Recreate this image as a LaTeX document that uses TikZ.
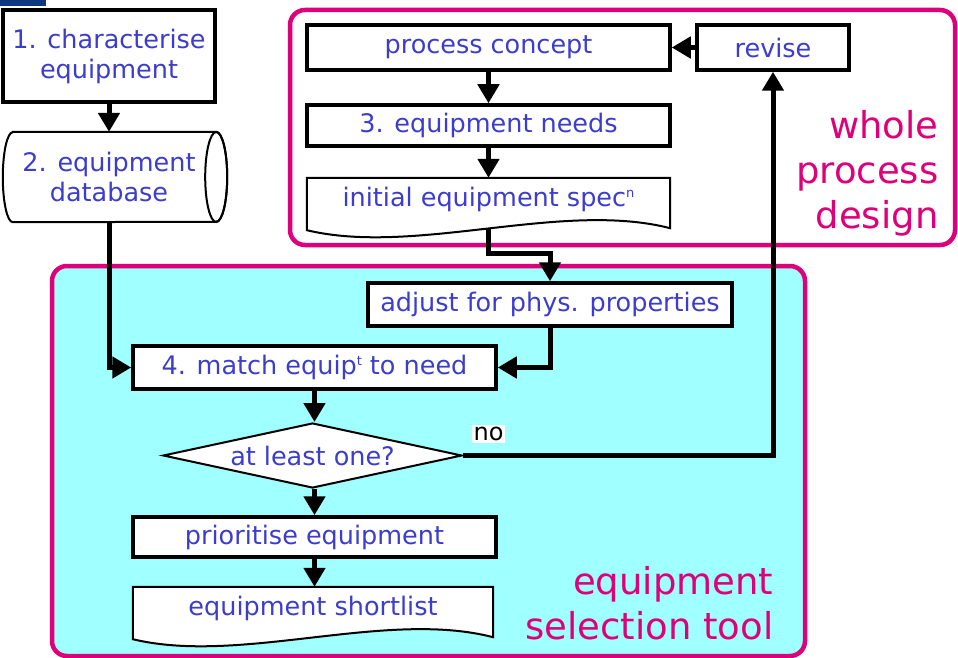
\documentclass[tikz,border=0pt]{standalone}
\usepackage{fontspec}
\setmainfont{DejaVu Sans}
\usetikzlibrary{arrows.meta,calc,shapes.geometric}
\pgfdeclarelayer{bg}
\pgfdeclarelayer{wires}
\pgfdeclarelayer{outlines}
\pgfsetlayers{bg,wires,outlines,main}
\definecolor{txtblue}{RGB}{60,60,205}
\definecolor{groupmag}{RGB}{222,0,122}
\definecolor{toolfill}{RGB}{160,255,255}
\definecolor{cornerblue}{RGB}{16,56,128}

% document symbol: flat top, wavy bottom
\newcommand\docshape[1]{%
  \path[thinshape] (#1.north west) -- (#1.north east) -- ($(#1.south east)+(0,8)$)
    .. controls ($(#1.south east)!0.3!(#1.south west)+(0,-20)$)
       and ($(#1.south east)!0.7!(#1.south west)+(0,36)$) .. ($(#1.south west)+(0,10)$) -- cycle;}
\newcommand\supsmall[1]{\raisebox{9pt}{\fontsize{13}{13}\selectfont #1}}

\begin{document}
\begin{tikzpicture}[x=1pt,y=-1pt,
  every node/.style={font=\fontsize{25.5}{30}\selectfont, text=txtblue},
  box/.style={draw, line width=3.5pt, fill=white, minimum width=363pt,
    minimum height=43pt, inner sep=0pt, align=center},
  docnode/.style={minimum width=363pt, minimum height=42pt, inner sep=0pt},
  thinshape/.style={draw, line width=2pt, fill=white},
  wire/.style={line width=5pt, -{Triangle[width=21pt,length=19pt]}},
  groupframe/.style={draw=groupmag, line width=4.5pt, rounded corners=15pt},
  grouplabel/.style={font=\fontsize{37}{45}\selectfont, text=groupmag,
    align=right, anchor=east}]
\useasboundingbox (0,0) rectangle (958,658);

% group frames
\begin{pgfonlayer}{bg}
  \fill[cornerblue] (0,0) rectangle (46,6);
  \path[groupframe, fill=white] (290,10) rectangle (955,245);
  \path[groupframe, fill=toolfill] (52,266) rectangle (805,656);
\end{pgfonlayer}

% steps
\node[box, minimum width=212pt, minimum height=92pt] (c1) at (109,56) {1. characterise\\equipment};
\node[minimum width=192pt, minimum height=90pt, inner sep=0pt, align=center] (db) at (109,177) {2. equipment\\database};
\node[box, minimum height=45pt] (pc) at (488.5,47.5) {process concept};
\node[box, minimum width=152pt, minimum height=45pt] (rev) at (773,47.5) {revise};
\node[box, minimum height=41pt] (needs) at (488.5,125.5) {3. equipment needs};
\node[docnode] (spec) at (488.5,199) {initial equipment spec\supsmall{n}};
\node[box, minimum width=364pt] (adj) at (550,304.5) {adjust for phys. properties};
\node[box] (match) at (314.5,367.5) {4. match equip\supsmall{t} to need};
\node[diamond, thinshape, minimum width=299pt, minimum height=65pt, aspect=4.6,
  inner sep=0pt] (dia) at (312.5,455.5) {at least one?};
\node[box, minimum height=40pt] (prio) at (314.5,537) {prioritise equipment};
\node[docnode, minimum width=360pt] (short) at (313,608) {equipment shortlist};

\node[fill=white, text=black, font=\fontsize{24}{28}\selectfont, inner sep=2pt] (no) at (488.5,434) {no};

\node[grouplabel] (wpd) at (942,173) {whole\\process\\design};
\node[grouplabel] (est) at (777,603) {equipment\\selection tool};

% symbol outlines
\begin{pgfonlayer}{outlines}
  \path[thinshape] (db.north west) -- ($(db.north east)+(11,0)$)
    arc[start angle=90, end angle=-90, x radius=11pt, y radius=45pt]
    -- (db.south west)
    arc[start angle=270, end angle=90, x radius=10pt, y radius=45pt] -- cycle;
  \draw[line width=2pt] ($(db.east)+(11,0)$) ellipse[x radius=11pt, y radius=45pt];
  \docshape{spec}
  \docshape{short}
\end{pgfonlayer}

% connectors
\begin{pgfonlayer}{wires}
  \draw[wire] (c1.south) -- (c1.south |- db.north);
  \draw[wire] (db.center) |- (match.west);
  \draw[wire] (pc.south) -- (needs.north);
  \draw[wire] (needs.south) -- (spec.north);
  \draw[wire] (spec.center) -- ++(0,54) -| (adj.north);
  \draw[wire] (adj.south) |- (match.east);
  \draw[wire] (match.south) -- (match.south |- dia.north);
  \draw[wire] (dia.south -| prio.north) -- (prio.north);
  \draw[wire] (prio.south) -- (prio.south |- short.north);
  \draw[wire] (dia.east) -| (rev.south);
  \draw[wire] (rev.west) -- (pc.east);
\end{pgfonlayer}
\end{tikzpicture}
\end{document}
